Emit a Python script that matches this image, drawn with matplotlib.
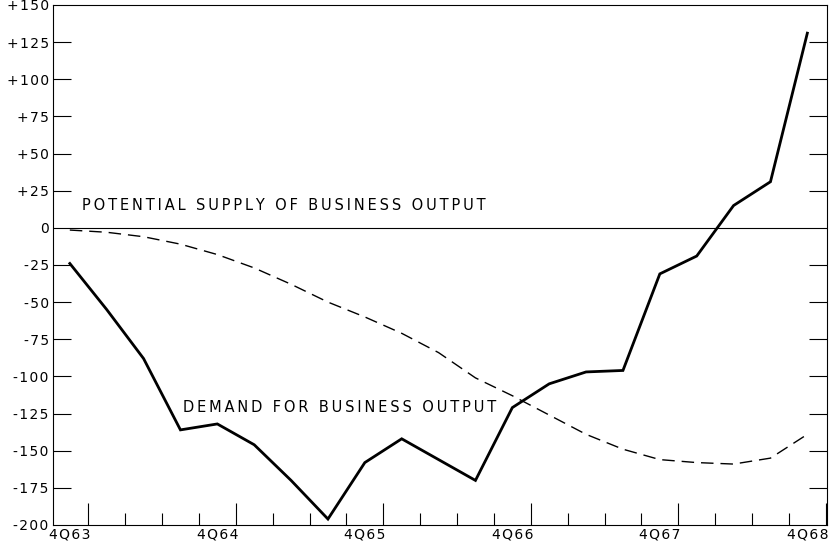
import matplotlib
matplotlib.use("Agg")
import matplotlib.pyplot as plt
import numpy as np

# quarters 4Q63 .. 4Q68, deviation from potential supply (billions)
quarters = np.arange(21)
year_labels = ['4Q63', '4Q64', '4Q65', '4Q66', '4Q67', '4Q68']
demand = [-24, -55, -88, -136, -132, -146, -170, -196, -158, -142, -156,
          -170, -121, -105, -97, -96, -31, -19, 15, 31, 131]
supply_trend = [-1.5, -3, -6, -11, -18, -27, -38, -50, -60, -71, -84,
                -101, -113, -126, -139, -149, -156, -158, -159, -155, -139]
y_ticks = list(range(-200, 151, 25))


def track(s, gap='\u2009'):
    # wide letter spacing like the original lettering
    return gap.join(s)


def ylab(v):
    if v > 0:
        return track('+%d' % v, '\u200a')
    return track('%d' % v, '\u200a')


plt.rcParams['font.family'] = ['DejaVu Sans']

fig = plt.figure(figsize=(8.39, 5.48), dpi=100)
ax = fig.add_axes([0.063, 0.042, 0.923, 0.949])

ax.plot(quarters, demand, color='black', linewidth=2.0, solid_joinstyle='miter')
ax.plot(quarters, supply_trend, color='black', linewidth=1.0,
        linestyle=(0, (9, 5)))
ax.axhline(0, color='black', linewidth=0.8)

ax.set_xlim(-0.46, 20.54)
ax.set_ylim(-200, 150)

# y axis ticks on both sides, pointing in
ax.set_yticks(y_ticks)
ax.set_yticklabels([ylab(v) for v in y_ticks], fontsize=10)
ax.tick_params(axis='y', direction='in', length=13, width=0.8,
               left=True, right=True, pad=3)
for t, v in zip(ax.yaxis.get_major_ticks(), y_ticks):
    if v in (-200, 0, 150):
        t.tick1line.set_visible(False)
        t.tick2line.set_visible(False)

# x axis: quarter boundary ticks, bigger ones at year ends
ax.set_xticks(np.arange(0.5, 20.6, 4))
ax.set_xticks(np.arange(0.5, 20.6, 1), minor=True)
ax.tick_params(axis='x', which='major', direction='in', length=16, width=0.8,
               labelbottom=False)
ax.tick_params(axis='x', which='minor', direction='in', length=8.5, width=0.8)

sec = ax.secondary_xaxis('bottom')
sec.set_xticks(quarters[::4])
sec.set_xticklabels([track(s, '\u200a') for s in year_labels], fontsize=10)
sec.tick_params(length=0, pad=2)
sec.spines['bottom'].set_visible(False)

for s in ax.spines.values():
    s.set_linewidth(0.8)

ax.text(0.33, 10, track('POTENTIAL SUPPLY OF BUSINESS OUTPUT'),
        fontsize=10.5, ha='left', va='bottom')
ax.text(3.07, -121, track('DEMAND FOR BUSINESS OUTPUT'),
        fontsize=10.5, ha='left', va='center')

fig.savefig('out.png', dpi=100)
